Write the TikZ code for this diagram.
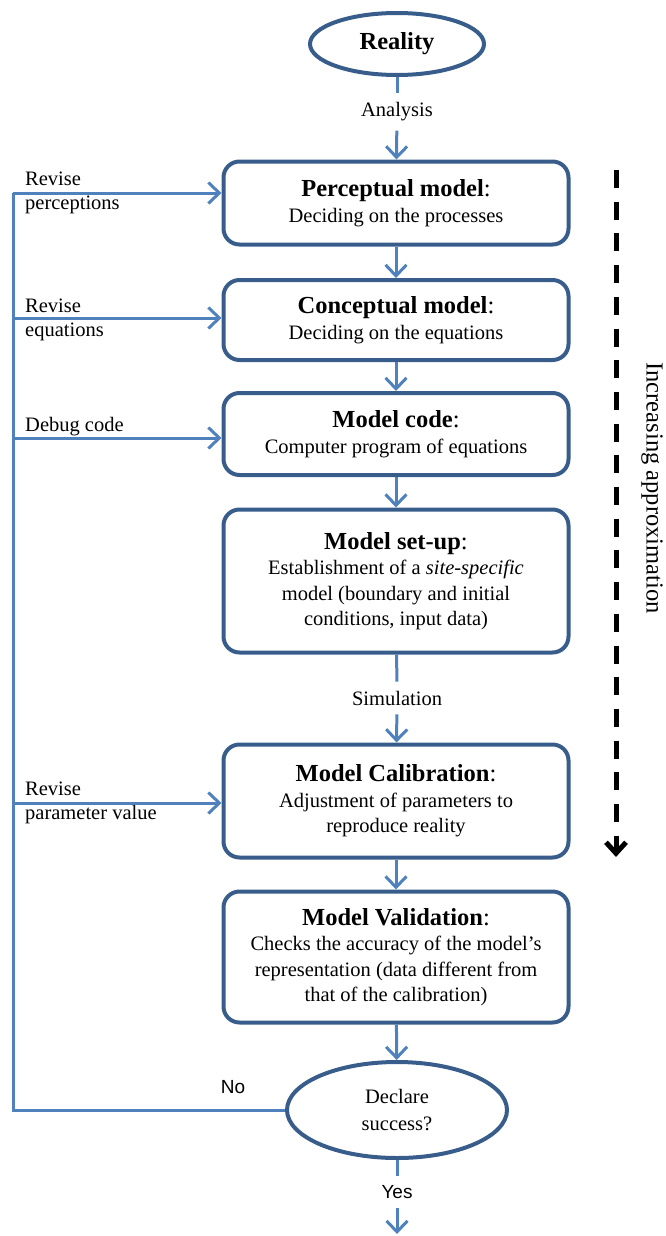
\documentclass[tikz,border=0pt]{standalone}
\usepackage{fontspec}
\setmainfont{Liberation Serif}
\newfontfamily\yesnofont{Liberation Sans}
\usetikzlibrary{positioning, shapes.geometric, arrows.meta}
\definecolor{boxblue}{HTML}{385D8A}
\definecolor{lineblue}{HTML}{4F81BD}
\newcommand{\steptitle}[1]{{\fontsize{24.5}{29}\selectfont\textbf{#1}:}}

\begin{document}
\begin{tikzpicture}[
    x=1pt, y=-1pt,
    stagebox/.style={draw=boxblue, line width=4pt, rounded corners=16pt, minimum width=345pt, align=center, font=\fontsize{20.5}{25.5}\selectfont},
    oval/.style={ellipse, draw=boxblue, line width=4pt, inner sep=0pt, align=center},
    flow label/.style={inner sep=9pt, font=\fontsize{20.5}{25.5}\selectfont},
    side label/.style={anchor=west, inner sep=0pt, align=left, font=\fontsize{20.5}{24}\selectfont},
    link/.style={draw=lineblue, line width=3pt, -{Straight Barb[length=11pt, width=21pt]}},
    plain link/.style={draw=lineblue, line width=3pt}
    ]
    \useasboundingbox (0,0) rectangle (666,1236);

    % Nodes
    \node[oval, minimum width=174pt, minimum height=62pt] (reality) at (397,44) {\fontsize{24.5}{29}\selectfont\textbf{Reality}};
    \node[flow label] (analysis) at (397,112) {Analysis};

    \node[stagebox, minimum height=83pt] (perc) at (396,203) {\steptitle{Perceptual model}\\Deciding on the processes};
    \node[stagebox, minimum height=80pt] (conc) at (396,320) {\steptitle{Conceptual model}\\Deciding on the equations};
    \node[stagebox, minimum height=82pt] (code) at (396,434) {\steptitle{Model code}\\Computer program of equations};
    \node[stagebox, minimum height=143pt] (setup) at (396,581) {\steptitle{Model set-up}\\Establishment of a \textit{site-specific}\\model (boundary and initial\\conditions, input data)};

    \node[flow label] (simulation) at (397,698) {Simulation};

    \node[stagebox, minimum height=113pt] (calib) at (396,801) {\steptitle{Model Calibration}\\Adjustment of parameters to\\reproduce reality};
    \node[stagebox, minimum height=131pt] (valid) at (396,957) {\steptitle{Model Validation}\\Checks the accuracy of the model's\\representation (data different from\\that of the calibration)};

    \node[oval, minimum width=220pt, minimum height=96pt, font=\fontsize{20.5}{27}\selectfont] (declare) at (397,1110) {Declare\\success?};
    \node[font=\yesnofont\fontsize{19}{22}\selectfont] (no) at (233,1087) {No};
    \node[flow label, font=\yesnofont\fontsize{19}{22}\selectfont] (yes) at (397,1192) {Yes};
    \coordinate (exit) at (397,1234);

    % Feedback labels
    \node[side label] (lperc) at (25,193) {Revise\\perceptions};
    \node[side label] (lconc) at (25,320) {Revise\\equations};
    \node[side label] (lcode) at (25,427) {Debug code};
    \node[side label] (lcalib) at (25,803) {Revise\\parameter value};

    \coordinate (fbperc) at (13,193);
    \coordinate (fbconc) at (13,318);
    \coordinate (fbcode) at (13,438);
    \coordinate (fbcalib) at (13,803);

    % Trend
    \coordinate (trendtop) at (616,170);
    \coordinate (trendend) at (616,857);
    \node[rotate=-90, font=\fontsize{24.5}{29}\selectfont] (trend) at (652,488) {Increasing approximation};

    % Connections
    \draw[plain link] (reality) -- (analysis);
    \draw[link] (analysis) -- (perc);
    \foreach \a/\b in {perc/conc, conc/code, code/setup, calib/valid, valid/declare}
        \draw[link] (\a) -- (\b);
    \draw[plain link] (setup) -- (simulation);
    \draw[link] (simulation) -- (calib);
    \draw[plain link] (declare) -- (yes);
    \draw[link] (yes) -- (exit);

    \draw[plain link] (declare.west) -| (fbperc);
    \foreach \c/\t in {fbperc/perc, fbconc/conc, fbcode/code, fbcalib/calib}
        \draw[link] (\c) -- (\c -| \t.west);

    \draw[line width=5pt, dash pattern=on 18pt off 13.7pt, -{Straight Barb[length=11pt, width=20pt]}] (trendtop) -- (trendend);

\end{tikzpicture}
\end{document}
